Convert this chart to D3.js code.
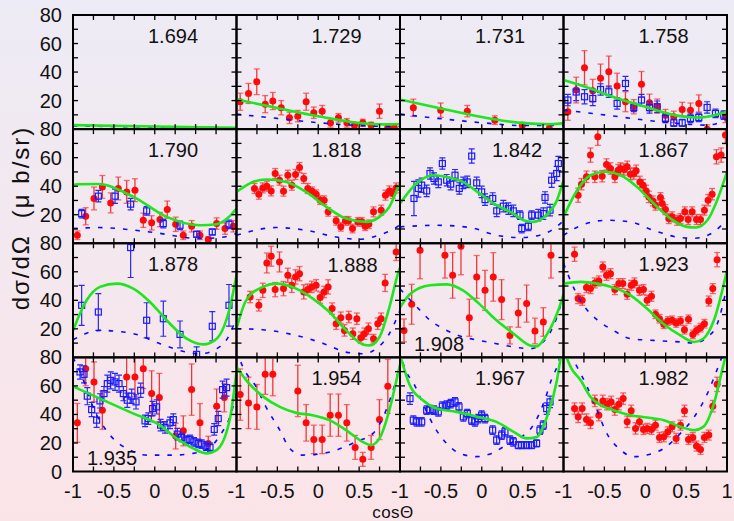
<!DOCTYPE html>
<html>
<head>
<meta charset="utf-8">
<script src="https://cdn.jsdelivr.net/npm/d3@7"></script>
<style>
  body { margin: 0; }
  svg { display: block; }
</style>
</head>
<body>
<svg id="chart" width="734" height="521"></svg>
<script>
// energies of the 16 panels (GeV), row by row
var energies = ["1.694", "1.729", "1.731", "1.758",
                "1.790", "1.818", "1.842", "1.867",
                "1.878", "1.888", "1.908", "1.923",
                "1.935", "1.954", "1.967", "1.982"];

var xTicks = [-1, -0.5, 0, 0.5];
var yTicks = [20, 40, 60, 80];

// red points: [cosTheta, dsigma, error]
var red_1729 = [[-0.955,19.2,6],[-0.853,25.0,7],[-0.752,33.2,9],[-0.649,17.5,6],[-0.556,19.7,6],[-0.453,15.0,5],[-0.352,7.9,4],[-0.25,9.1,4],[-0.148,19.2,6],[-0.055,11.5,4],[0.048,12.6,4],[0.15,4.4,3],[0.247,7.9,3],[0.35,4.4,3],[0.443,2.8,2],[0.545,4.4,2.5],[0.647,2.8,2],[0.749,12.6,5],[0.85,0.9,2],[0.93,0.9,2]];
var red_1731 = [[-0.837,15.0,6],[-0.502,13.3,5],[-0.177,12.6,4],[0.16,6.3,3],[0.496,2.8,2],[0.826,0.5,2]];
var red_1758 = [[-0.947,12.2,6],[-0.845,27.4,9],[-0.743,43.0,12],[-0.642,26.9,8],[-0.547,35.6,10],[-0.446,40.2,11],[-0.344,30.2,9],[-0.242,19.2,7],[-0.14,15.7,5],[-0.046,31.4,9],[0.052,18.5,6],[0.146,16.1,5],[0.247,9.8,4],[0.349,8.6,4],[0.452,13.8,5],[0.553,13.3,5],[0.655,18.0,6],[0.757,0.0,3],[0.98,8.6,4]];
var red_1790 = [[-0.947,5.6,3],[-0.845,18.9,6],[-0.743,31.4,8],[-0.641,39.5,8],[-0.539,28.3,7],[-0.446,38.4,8],[-0.343,36.0,8],[-0.242,37.2,8],[-0.14,16.1,5],[-0.038,14.3,5],[0.064,16.6,5],[0.153,23.6,6],[0.256,13.3,5],[0.349,5.6,3],[0.452,11.9,4],[0.553,5.6,3],[0.655,2.6,2],[0.757,13.8,4],[0.859,10.3,4],[0.96,11.9,4]];
var red_1818 = [[-0.78,38.4,3.5],[-0.727,34.4,3.5],[-0.678,38.8,3.5],[-0.629,40.0,3.5],[-0.576,36.7,3.5],[-0.527,48.9,3.5],[-0.474,44.2,3.5],[-0.425,36.5,3.5],[-0.372,47.7,3.5],[-0.323,40.7,3.5],[-0.278,48.2,3.5],[-0.229,53.1,3.5],[-0.177,45.4,3.5],[-0.128,38.4,3.5],[-0.074,36.5,3],[-0.025,34.4,3],[0.024,30.2,3],[0.073,30.2,3],[0.121,22.0,3],[0.219,15.7,3],[0.276,11.5,3],[0.333,15.7,3],[0.37,15.7,3],[0.419,10.3,3],[0.484,15.0,3],[0.533,15.0,3],[0.574,11.9,3],[0.618,13.3,3],[0.676,22.0,3.5],[0.77,23.2,3.5],[0.822,33.7,3.5],[0.871,36.7,3.5],[0.912,34.9,3.5],[0.953,38.8,3.5]];
var red_1867 = [[-0.821,33.7,5],[-0.78,41.4,4],[-0.719,46.6,4],[-0.67,61.8,5],[-0.617,46.6,4],[-0.58,74.6,6],[-0.527,47.0,4],[-0.474,55.2,4],[-0.425,52.4,4],[-0.372,46.6,4],[-0.331,51.2,4],[-0.303,52.4,4],[-0.262,51.7,4],[-0.221,53.6,4],[-0.181,48.4,4],[-0.14,48.9,4],[-0.111,50.8,4],[-0.066,43.0,4],[-0.026,40.7,4],[0.011,36.7,4],[0.044,32.5,4],[0.093,29.7,3.5],[0.125,26.7,3.5],[0.186,32.0,3.5],[0.207,27.8,3.5],[0.247,23.6,3.5],[0.288,17.3,3.5],[0.329,18.5,3.5],[0.39,16.1,3.5],[0.431,17.3,3.5],[0.484,22.0,3.5],[0.525,16.6,3.5],[0.574,22.0,3.5],[0.627,16.6,3.5],[0.676,16.6,3.5],[0.724,23.2,3.5],[0.769,30.2,4],[0.818,34.4,4],[0.871,60.6,5],[0.928,61.8,5],[0.981,75.8,6]];
var red_1888 = [[-0.833,42.3,4],[-0.727,36.5,4],[-0.678,47.0,5],[-0.629,66.2,7],[-0.576,70.9,7],[-0.527,47.5,5],[-0.474,66.9,7],[-0.425,48.2,5],[-0.372,57.5,5],[-0.323,50.5,5],[-0.278,56.4,5],[-0.229,58.7,5],[-0.177,45.9,5],[-0.128,47.5,4],[-0.079,49.4,4],[-0.026,50.5,4],[0.023,41.9,4],[0.072,45.9,4],[0.121,49.4,5],[0.17,34.2,4],[0.219,23.6,4],[0.276,27.8,4],[0.321,18.9,4],[0.374,28.3,4],[0.423,16.6,4],[0.472,27.1,4],[0.521,13.8,4],[0.565,16.6,4],[0.614,20.1,4],[0.676,13.1,3],[0.728,23.6,4],[0.769,27.1,4],[0.818,52.2,6],[0.953,73.9,6]];
var red_1908 = [[-0.951,18.9,8],[-0.857,37.2,14],[-0.755,75.1,20],[-0.45,71.6,16],[-0.356,57.5,16],[-0.254,77.9,20],[-0.152,27.8,13],[-0.062,56.4,15],[0.04,47.0,14],[0.141,56.4,17],[0.243,40.5,14],[0.345,15.4,6],[0.447,31.1,10],[0.549,37.7,13],[0.651,18.5,9],[0.753,24.8,10],[0.847,71.6,16]];
var red_1923 = [[-0.865,72.3,5],[-0.821,41.2,3.5],[-0.772,40.0,3.5],[-0.719,48.9,3.5],[-0.67,48.2,3.5],[-0.617,52.2,3.5],[-0.568,53.6,3.5],[-0.519,63.4,3.5],[-0.474,57.5,3.5],[-0.425,58.7,3.5],[-0.372,47.5,3.5],[-0.323,51.7,3.5],[-0.274,51.7,3.5],[-0.221,44.2,3.5],[-0.172,50.5,3.5],[-0.132,52.2,3.5],[-0.071,47.0,3.5],[-0.022,47.5,3.5],[0.023,40.0,3.5],[0.076,42.8,3.5],[0.125,30.2,3],[0.174,27.1,3],[0.227,23.2,3],[0.276,25.5,3],[0.329,26.0,3],[0.378,24.1,3],[0.431,25.5,3],[0.48,19.4,3],[0.529,26.7,3],[0.582,16.1,3],[0.627,18.9,3],[0.676,20.8,3],[0.724,23.6,3],[0.777,39.5,3.5],[0.826,48.2,3.5],[0.879,68.5,5]];
var red_1935 = [[-0.947,34.1,13.6],[-0.845,72.1,12],[-0.743,62.8,14],[-0.641,43.0,13.4],[-0.344,66.3,14],[-0.242,66.3,14],[-0.14,72.1,14],[-0.038,54.6,16],[0.056,51.8,17],[0.256,24.8,9],[0.349,28.5,10.5],[0.451,57.4,18],[0.553,34.1,13.5],[0.655,19.7,5],[0.757,45.8,12],[0.851,51.8,10]];
var red_1954 = [[-0.955,53.9,18],[-0.853,48.1,18],[-0.751,45.3,15.7],[-0.649,68.1,14],[-0.556,68.1,15],[-0.25,56.5,18],[-0.148,34.1,12.8],[-0.054,22.5,10],[0.048,22.5,10],[0.146,39.5,14.8],[0.247,39.5,14.8],[0.349,34.1,12.8],[0.451,16.9,8.4],[0.545,8.5,4.9],[0.647,16.9,8.4],[0.749,36.4,14],[0.851,59.7,19]];
var red_1982 = [[-0.865,44.1,4],[-0.821,38.3,4],[-0.772,44.1,4],[-0.719,36.4,4],[-0.67,34.1,4],[-0.617,49.5,4],[-0.568,39.5,4],[-0.519,49.5,4],[-0.466,47.2,4],[-0.417,48.8,4],[-0.372,43.4,4],[-0.323,47.2,4],[-0.27,51.1,4],[-0.221,34.8,4],[-0.172,42.5,4],[-0.119,30.2,4],[-0.071,34.8,3.5],[-0.022,29.5,3.5],[0.023,30.2,3.5],[0.076,29.5,3.5],[0.125,32.5,3.5],[0.174,23.9,3.5],[0.227,24.3,3.5],[0.276,27.8,3.5],[0.329,31.3,3.5],[0.378,23.2,3.5],[0.431,32.5,3.5],[0.48,42.5,4],[0.529,22.5,3.5],[0.582,23.9,3.5],[0.627,17.8,3.5],[0.676,15.5,3.5],[0.724,23.9,3.5],[0.777,25.5,3.5],[0.826,45.8,4],[0.879,61.1,5]];

// blue squares: [cosTheta, dsigma, error]
var blue_1758 = [[-0.947,20.4,4],[-0.845,26.0,6],[-0.743,22.7,5],[-0.642,21.5,5],[-0.547,27.8,4],[-0.446,26.2,4],[-0.344,18.0,4],[-0.242,32.0,5],[-0.14,15.2,3],[-0.046,20.4,4],[0.052,15.2,4],[0.146,15.7,4],[0.247,7.5,3],[0.349,4.4,2.5],[0.452,4.4,2.5],[0.553,7.5,3],[0.655,8.2,3],[0.757,15.2,4],[0.859,11.0,3],[0.96,9.8,3]];
var blue_1790 = [[-0.894,20.8,3],[-0.69,33.0,4],[-0.486,33.0,5],[-0.295,27.4,4],[-0.099,22.7,3],[0.104,13.8,3],[0.309,12.6,3],[0.513,6.3,2],[0.704,7.9,2],[0.908,13.3,3]];
var blue_1842 = [[-0.829,31.4,12],[-0.776,38.4,6],[-0.735,40.7,5],[-0.674,36.7,4],[-0.633,48.9,4],[-0.584,45.4,4],[-0.531,43.0,4],[-0.482,55.9,4],[-0.429,44.2,4],[-0.38,41.4,4],[-0.327,47.7,4],[-0.275,38.4,4],[-0.226,42.3,4],[-0.177,43.0,4],[-0.123,61.1,5],[-0.062,42.3,4],[-0.001,36.0,4],[0.04,30.6,4],[0.134,31.4,4],[0.183,22.7,4],[0.264,26.0,4],[0.325,24.3,4],[0.386,22.7,4],[0.468,19.7,3],[0.489,10.3,3],[0.57,11.9,3],[0.611,19.7,3],[0.692,19.7,4],[0.753,20.8,4],[0.774,32.1,4],[0.835,23.2,4],[0.855,44.2,5],[0.916,48.9,5],[0.937,55.9,5]];
var blue_1878 = [[-0.894,36.5,14],[-0.69,31.8,12.9],[-0.295,77.0,21],[-0.099,26.0,12.3],[0.105,27.1,12.3],[0.309,16.1,9.4],[0.512,2.1,5.3],[0.704,21.8,10.3],[0.908,36.5,14.6]];
var blue_1935 = [[-0.914,69.8,5],[-0.865,68.1,6],[-0.825,52.8,6],[-0.772,43.4,5],[-0.711,36.0,5],[-0.67,49.5,5],[-0.621,54.6,5],[-0.58,61.6,6],[-0.539,63.9,6],[-0.486,62.8,6],[-0.437,61.6,6],[-0.384,54.6,5],[-0.336,50.0,5],[-0.282,52.8,5],[-0.229,48.8,5],[-0.172,56.9,5],[-0.119,35.5,4],[-0.079,37.1,4],[-0.026,44.1,5],[0.023,45.3,5],[0.072,32.5,4],[0.125,30.9,4],[0.186,34.1,4],[0.227,36.4,4],[0.276,26.2,4],[0.329,23.9,3],[0.382,22.0,3],[0.431,22.5,3],[0.48,20.8,3],[0.533,19.7,3],[0.574,19.2,3],[0.627,17.8,3],[0.676,16.9,3],[0.728,29.5,4],[0.777,37.1,5],[0.83,57.4,6],[0.879,58.8,6]];
var blue_1967 = [[-0.878,51.1,4],[-0.837,36.0,3],[-0.796,34.8,3],[-0.735,34.8,3],[-0.674,43.0,3],[-0.633,43.4,3],[-0.584,43.0,3],[-0.531,41.8,3],[-0.482,45.8,3],[-0.429,46.5,3],[-0.38,47.6,3],[-0.327,48.8,3],[-0.278,45.3,3],[-0.225,38.3,3],[-0.177,40.6,3],[-0.123,36.0,3],[-0.083,34.8,3],[-0.042,37.1,3],[-0.001,39.5,3],[0.04,37.1,3],[0.133,29.0,3],[0.182,22.0,3],[0.243,25.5,3],[0.284,27.8,3],[0.345,22.0,3],[0.386,20.8,3],[0.447,18.5,2.5],[0.488,18.5,2.5],[0.549,18.5,2.5],[0.61,18.5,2.5],[0.671,19.7,2.5],[0.712,29.0,3],[0.753,32.5,3],[0.794,44.1,4],[0.835,48.8,4]];

// green solid curves (full model): [cosTheta, dsigma]
var fit_1694 = [[-1,2.8],[0,1.8],[1,0.9]];
var fit_1729 = [[-1,20.8],[-0.5,14.8],[0,9.0],[0.5,4.3],[0.8,3.3],[1,3.6]];
var fit_1731 = [[-1,20.8],[-0.5,14.5],[0,8.5],[0.5,4.2],[0.85,3.4],[1,4.2]];
var fit_1758 = [[-1,34.4],[-0.7,29.0],[-0.4,22.7],[0,15.7],[0.43,9.1],[0.65,8.2],[0.85,9.8],[1,12.2]];
var fit_1790 = [[-1,41.2],[-0.7,41.5],[-0.26,32.5],[0.146,18.5],[0.553,12.6],[0.757,13.3],[0.9,18.0],[1,24.3]];
var fit_1818 = [[-1,36.0],[-0.8,43.0],[-0.64,44.7],[-0.39,43.0],[-0.15,36.0],[0.1,25.5],[0.34,17.3],[0.586,15.0],[0.749,18.5],[0.87,25.5],[0.97,38.4],[1,42.0]];
var fit_1842 = [[-1,27.8],[-0.8,41.9],[-0.59,47.7],[-0.43,46.5],[-0.23,43.0],[-0.03,35.0],[0.18,26.7],[0.39,20.8],[0.51,16.1],[0.63,15.0],[0.79,19.7],[0.92,30.2],[1,44.0]];
var fit_1867 = [[-1,18.5],[-0.833,37.2],[-0.67,47.7],[-0.49,50.1],[-0.3,47.7],[-0.1,39.5],[0.105,27.8],[0.31,17.3],[0.51,11.5],[0.62,11.0],[0.76,16.1],[0.88,30.2],[1,50.0]];
var fit_1878 = [[-1,18.9],[-0.833,40.0],[-0.67,49.4],[-0.466,51.7],[-0.262,48.2],[-0.058,38.8],[0.146,26.0],[0.39,13.1],[0.594,9.1],[0.757,13.1],[0.92,35.3],[1,57.5]];
var fit_1888 = [[-1,20.1],[-0.882,40.0],[-0.678,49.4],[-0.515,51.7],[-0.27,48.2],[-0.066,41.2],[0.137,31.8],[0.341,18.9],[0.545,9.1],[0.627,8.4],[0.749,14.3],[0.871,35.3],[0.975,58.7],[1,63.0]];
var fit_1908 = [[-1,35.0],[-0.87,44.7],[-0.633,50.5],[-0.43,51.2],[-0.23,47.0],[-0.03,37.5],[0.18,26.0],[0.39,16.6],[0.59,8.4],[0.67,7.7],[0.79,15.4],[0.92,30.6],[1,44.0]];
var fit_1923 = [[-1,51.7],[-0.79,52.9],[-0.59,51.7],[-0.39,48.9],[-0.18,43.5],[0.02,34.2],[0.227,23.2],[0.43,15.4],[0.6,10.8],[0.71,13.1],[0.84,26.0],[1,61.0]];
var fit_1935 = [[-1,59.7],[-0.67,51.1],[-0.26,40.6],[0.06,32.5],[0.268,23.2],[0.47,16.2],[0.635,12.7],[0.757,15.0],[0.92,37.1],[1,70.0]];
var fit_1954 = [[-1,73.2],[-0.88,63.9],[-0.67,52.3],[-0.47,45.3],[-0.27,41.1],[-0.07,39.5],[0.137,36.0],[0.34,29.0],[0.545,20.8],[0.647,18.5],[0.749,23.2],[0.87,43.0],[0.975,68.6],[1,75.0]];
var fit_1967 = [[-1,82.0],[-0.88,60.4],[-0.72,50.0],[-0.55,44.1],[-0.31,41.8],[-0.03,38.0],[0.18,34.8],[0.39,27.8],[0.55,23.2],[0.67,24.1],[0.79,37.1],[0.92,64.0],[0.96,78.0],[1,90.0]];
var fit_1982 = [[-1,85.0],[-0.9,72.0],[-0.79,63.9],[-0.67,52.3],[-0.547,46.5],[-0.39,43.0],[-0.18,39.5],[0.02,37.8],[0.227,36.0],[0.43,31.3],[0.6,29.0],[0.71,31.3],[0.84,47.6],[0.94,70.9],[1,85.0]];

// blue dashed curves: [cosTheta, dsigma]
var alt_1694 = [[-1,2.2],[0,1.5],[1,0.8]];
var alt_1729 = [[-1,10.5],[-0.5,7.5],[0,4.5],[0.5,2.5],[1,1.8]];
var alt_1731 = [[-1,10.5],[-0.5,7.3],[0,4.5],[0.5,2.5],[1,2.5]];
var alt_1758 = [[-1,13.3],[-0.5,10.0],[0,6.3],[0.5,3.5],[0.75,2.8],[0.9,4.5],[1,7.5]];
var alt_1790 = [[-1,10.3],[-0.7,11.0],[-0.06,7.9],[0.55,3.3],[0.8,4.0],[1,6.8]];
var alt_1818 = [[-1,5.6],[-0.51,11.0],[-0.15,9.1],[0.22,4.4],[0.5,2.8],[0.74,5.6],[0.95,11.0],[1,13.0]];
var alt_1842 = [[-1,11.5],[-0.55,12.6],[-0.14,11.0],[0.18,5.6],[0.47,4.0],[0.71,5.6],[0.96,13.8],[1,16.0]];
var alt_1867 = [[-1,5.6],[-0.81,11.9],[-0.47,16.1],[-0.18,14.9],[0.1,9.1],[0.43,4.0],[0.6,3.5],[0.84,8.0],[1,17.0]];
var alt_1878 = [[-1,12.4],[-0.67,18.9],[-0.26,16.6],[0.064,9.6],[0.39,3.7],[0.55,2.5],[0.76,6.1],[0.92,16.6],[1,28.3]];
var alt_1888 = [[-1,20.1],[-0.678,19.4],[-0.27,15.4],[0.07,9.6],[0.34,3.7],[0.545,2.5],[0.71,6.1],[0.87,16.6],[0.975,29.5],[1,33.0]];
var alt_1908 = [[-1,48.0],[-0.755,33.0],[-0.633,26.0],[-0.47,20.1],[-0.23,14.3],[-0.03,11.9],[0.18,9.6],[0.39,7.3],[0.59,6.1],[0.75,10.8],[0.92,28.3],[1,44.0]];
var alt_1923 = [[-1,66.0],[-0.86,47.0],[-0.74,35.3],[-0.58,26.0],[-0.39,18.9],[-0.18,13.1],[0.1,11.9],[0.43,10.8],[0.6,10.1],[0.76,14.3],[0.88,23.2],[1,50.0]];
var alt_1935 = [[-1,80.0],[-0.914,69.8],[-0.711,39.5],[-0.609,30.2],[-0.499,22.5],[-0.344,16.2],[-0.099,11.5],[0.227,11.5],[0.47,12.7],[0.676,16.9],[0.8,25.5],[0.92,38.3],[1,54.6]];
var alt_1954 = [[-1,85.0],[-0.92,73.0],[-0.76,59.3],[-0.64,45.3],[-0.47,29.0],[-0.35,16.2],[-0.19,11.5],[-0.03,12.0],[0.22,15.0],[0.46,20.8],[0.67,26.7],[0.83,43.0],[0.95,63.9],[1,75.0]];
var alt_1967 = [[-1,85.0],[-0.96,75.6],[-0.82,60.4],[-0.72,47.6],[-0.58,31.3],[-0.43,19.7],[-0.27,12.7],[-0.06,10.4],[0.12,12.7],[0.3,18.5],[0.49,24.3],[0.63,32.5],[0.77,50.0],[0.85,64.0],[0.93,75.0],[1,90.0]];
var alt_1982 = [[-1,90.0],[-0.79,68.6],[-0.71,59.3],[-0.59,43.0],[-0.49,29.0],[-0.3,15.0],[-0.14,10.4],[0.02,11.5],[0.227,16.2],[0.43,26.7],[0.6,38.3],[0.76,54.6],[0.86,68.6],[1,90.0]];

var redSets  = [null, red_1729, red_1731, red_1758, red_1790, red_1818, null, red_1867,
                null, red_1888, red_1908, red_1923, red_1935, red_1954, null, red_1982];
var blueSets = [null, null, null, blue_1758, blue_1790, null, blue_1842, null,
                blue_1878, null, null, null, blue_1935, null, blue_1967, null];
var fitSets  = [fit_1694, fit_1729, fit_1731, fit_1758, fit_1790, fit_1818, fit_1842, fit_1867,
                fit_1878, fit_1888, fit_1908, fit_1923, fit_1935, fit_1954, fit_1967, fit_1982];
var altSets  = [alt_1694, alt_1729, alt_1731, alt_1758, alt_1790, alt_1818, alt_1842, alt_1867,
                alt_1878, alt_1888, alt_1908, alt_1923, alt_1935, alt_1954, alt_1967, alt_1982];

// layout
var gridLeft = 73, gridRight = 727, gridTop = 15, gridBottom = 471.5;
var pw = (gridRight - gridLeft) / 4, ph = (gridBottom - gridTop) / 4;
// where the energy label sits inside a panel (dx from left, dy from top)
var labelPos = {6: [117, 28], 9: [116, 29], 10: [39, 108], 12: [39, 108]};

var svg = d3.select("#chart");
var defs = svg.append("defs");
var grad = defs.append("linearGradient").attr("id", "bg")
    .attr("x1", 0).attr("y1", 0).attr("x2", 0).attr("y2", 1);
grad.append("stop").attr("offset", "0%").attr("stop-color", "#edebf5");
grad.append("stop").attr("offset", "100%").attr("stop-color", "#fbe4e8");
svg.append("rect").attr("width", 734).attr("height", 521).attr("fill", "url(#bg)");

var font = "'Liberation Sans', Arial, sans-serif";

energies.forEach(function (label, i) {
    var col = i % 4, row = Math.floor(i / 4);
    var x0 = gridLeft + col * pw, y0 = gridTop + row * ph;
    var x = d3.scaleLinear().domain([-1, 1]).range([x0, x0 + pw]);
    var y = d3.scaleLinear().domain([0, 80]).range([y0 + ph, y0]);

    defs.append("clipPath").attr("id", "clip" + i)
        .append("rect").attr("x", x0).attr("y", y0).attr("width", pw).attr("height", ph);

    var g = svg.append("g").attr("clip-path", "url(#clip" + i + ")");

    // red points
    if (redSets[i]) {
        var rg = g.append("g");
        redSets[i].forEach(function (d) {
            var cx = x(d[0]);
            rg.append("line").attr("x1", cx).attr("x2", cx)
                .attr("y1", y(d[1] - d[2])).attr("y2", y(d[1] + d[2]))
                .attr("stroke", "#f01818").attr("stroke-width", 1.3).attr("opacity", 0.85);
            [d[1] - d[2], d[1] + d[2]].forEach(function (v) {
                rg.append("line").attr("x1", cx - 3).attr("x2", cx + 3)
                    .attr("y1", y(v)).attr("y2", y(v))
                    .attr("stroke", "#f54040").attr("stroke-width", 1.3).attr("opacity", 0.75);
            });
        });
        rg.selectAll("circle").data(redSets[i]).enter().append("circle")
            .attr("cx", function (d) { return x(d[0]); })
            .attr("cy", function (d) { return y(d[1]); })
            .attr("r", 3.5).attr("fill", "#ff0a0a");
    }

    // blue squares
    if (blueSets[i]) {
        var bg = g.append("g");
        blueSets[i].forEach(function (d) {
            var cx = x(d[0]);
            bg.append("line").attr("x1", cx).attr("x2", cx)
                .attr("y1", y(d[1] - d[2])).attr("y2", y(d[1] + d[2]))
                .attr("stroke", "#2a2aee").attr("stroke-width", 1.2);
            [d[1] - d[2], d[1] + d[2]].forEach(function (v) {
                bg.append("line").attr("x1", cx - 3).attr("x2", cx + 3)
                    .attr("y1", y(v)).attr("y2", y(v))
                    .attr("stroke", "#2a2aee").attr("stroke-width", 1.2);
            });
        });
        bg.selectAll("rect").data(blueSets[i]).enter().append("rect")
            .attr("x", function (d) { return x(d[0]) - 3; })
            .attr("y", function (d) { return y(d[1]) - 3; })
            .attr("width", 6).attr("height", 6)
            .attr("fill", "none").attr("stroke", "#1a1aff").attr("stroke-width", 1.2);
    }

    var line = d3.line()
        .x(function (d) { return x(d[0]); })
        .y(function (d) { return y(d[1]); })
        .curve(d3.curveMonotoneX);

    g.append("path").attr("d", line(altSets[i]))
        .attr("fill", "none").attr("stroke", "#0a0aff").attr("stroke-width", 1.6)
        .attr("stroke-dasharray", "4.5,8");
    g.append("path").attr("d", line(fitSets[i]))
        .attr("fill", "none").attr("stroke", "#1ee61e").attr("stroke-width", 2.6);

    // ticks on all four sides, pointing inwards
    var tk = svg.append("g").attr("stroke", "#000").attr("stroke-width", 1.3);
    d3.range(-0.75, 1, 0.25).forEach(function (c) {
        tk.append("line").attr("x1", x(c)).attr("x2", x(c)).attr("y1", y0).attr("y2", y0 + 5);
        tk.append("line").attr("x1", x(c)).attr("x2", x(c)).attr("y1", y0 + ph).attr("y2", y0 + ph - 5);
    });
    d3.range(10, 80, 10).forEach(function (v) {
        tk.append("line").attr("x1", x0).attr("x2", x0 + 5).attr("y1", y(v)).attr("y2", y(v));
        tk.append("line").attr("x1", x0 + pw).attr("x2", x0 + pw - 5).attr("y1", y(v)).attr("y2", y(v));
    });

    svg.append("rect").attr("x", x0).attr("y", y0).attr("width", pw).attr("height", ph)
        .attr("fill", "none").attr("stroke", "#000").attr("stroke-width", 2);

    var lp = labelPos[i] || [100, 28];
    svg.append("text").attr("x", x0 + lp[0]).attr("y", y0 + lp[1])
        .attr("text-anchor", "middle").attr("font-family", font).attr("font-size", 20)
        .attr("fill", "#111").text(label);

    // y tick labels on the first column
    if (col === 0) {
        var yl = row === 3 ? [0].concat(yTicks) : yTicks;
        yl.forEach(function (v) {
            svg.append("text").attr("x", x0 - 11).attr("y", y(v) + 7)
                .attr("text-anchor", "end").attr("font-family", font).attr("font-size", 20)
                .attr("fill", "#111").text(v);
        });
    }
    // x tick labels on the last row
    if (row === 3) {
        var xl = col === 3 ? xTicks.concat([1]) : xTicks;
        xl.forEach(function (c) {
            svg.append("text").attr("x", x(c)).attr("y", 498)
                .attr("text-anchor", "middle").attr("font-family", font).attr("font-size", 20)
                .attr("fill", "#111").text(c);
        });
    }
});

svg.append("text").attr("x", 393).attr("y", 518)
    .attr("text-anchor", "middle").attr("font-family", font).attr("font-size", 17)
    .attr("letter-spacing", 0.5).attr("fill", "#111").text("cosΘ");

var yLabel = svg.append("text").attr("transform", "translate(29,218) rotate(-90)")
    .attr("text-anchor", "middle").attr("font-family", font).attr("font-size", 24)
    .attr("letter-spacing", 2).attr("fill", "#111");
yLabel.append("tspan").text("dσ/dΩ");
yLabel.append("tspan").attr("dx", 16).text("(μ b/sr)");
</script>
</body>
</html>
